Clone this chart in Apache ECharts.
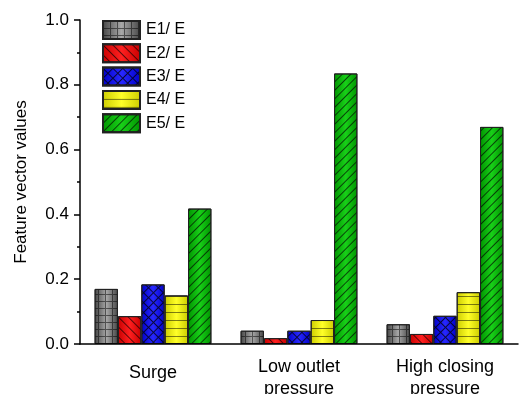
<!DOCTYPE html>
<html><head><meta charset="utf-8">
<script src="https://cdn.jsdelivr.net/npm/echarts@6/dist/echarts.min.js"></script>
<style>html,body{margin:0;padding:0;background:#fff}#c{width:520px;height:394px}</style>
</head><body><div id="c"></div>
<script>
var categories = ['Surge', 'Low outlet\npressure', 'High closing\npressure'];
var seriesNames = ['E1/ E', 'E2/ E', 'E3/ E', 'E4/ E', 'E5/ E'];
var E1 = [0.170, 0.041, 0.061];
var E2 = [0.086, 0.018, 0.031];
var E3 = [0.184, 0.041, 0.087];
var E4 = [0.150, 0.074, 0.160];
var E5 = [0.418, 0.835, 0.670];
var yTicks = [0, 0.2, 0.4, 0.6, 0.8, 1.0];

var values = [E1, E2, E3, E4, E5];
var grads = [['#444444', '#a8a8a8'], ['#c80000', '#ff2020'], ['#0000c8', '#2828ff'], ['#cccc00', '#ffff28'], ['#009400', '#18d018']];
function grad(c) {
  return new echarts.graphic.LinearGradient(0, 0, 1, 0, [
    {offset: 0, color: c[0]}, {offset: 0.5, color: c[1]}, {offset: 1, color: c[0]}]);
}
var Lshape = 'path://M0,0H7V1H1V7H0Z';
var decals = [
  {symbol: Lshape, color: 'rgba(0,0,0,0.5)', dashArrayX: [7, 0], dashArrayY: [7, 0], symbolSize: 1},
  {symbol: 'rect', color: 'rgba(0,0,0,0.65)', dashArrayX: [[1, 0]], dashArrayY: [1, 6], symbolSize: 1, rotation: Math.PI / 4},
  {symbol: Lshape, color: 'rgba(0,0,0,0.75)', dashArrayX: [7, 0], dashArrayY: [7, 0], symbolSize: 1, rotation: Math.PI / 4},
  {symbol: 'rect', color: 'rgba(0,0,0,0.5)', dashArrayX: [[1, 0]], dashArrayY: [1, 6.5], symbolSize: 1},
  {symbol: 'rect', color: 'rgba(0,0,0,0.65)', dashArrayX: [[1, 0]], dashArrayY: [1, 5], symbolSize: 1, rotation: -Math.PI / 4}
];
var series = seriesNames.map(function (n, i) {
  return {
    name: n, type: 'bar', data: values[i], xAxisIndex: 0,
    barGap: '0%', barCategoryGap: '20%',
    itemStyle: {color: grad(grads[i]), borderColor: '#222', borderWidth: 1, decal: decals[i]}
  };
});
var catData = categories.map(function (c, i) {
  return i === 0 ? {value: c, textStyle: {padding: [6, 0, 0, 0]}} : c;
});
var chart = echarts.init(document.getElementById('c'), null, {renderer: 'canvas'});
chart.setOption({
  animation: false,
  aria: {enabled: false, decal: {show: true}},
  textStyle: {fontFamily: 'Liberation Sans, Arial, sans-serif'},
  grid: {left: 80, right: 2, top: 20, bottom: 50, containLabel: false, outerBoundsMode: 'none'},
  legend: {
    orient: 'vertical', left: 102, top: 20, padding: 0, itemWidth: 37, itemHeight: 18, itemGap: 3.3,
    icon: 'rect',
    textStyle: {fontSize: 16, color: '#000', padding: [0, 0, 0, 1]},
    data: seriesNames
  },
  xAxis: [{
    type: 'category', data: catData,
    axisLine: {lineStyle: {color: '#000', width: 1.5}},
    axisTick: {alignWithLabel: true, length: 6, lineStyle: {color: '#000', width: 1.5}},
    axisLabel: {fontSize: 18, color: '#000', margin: 12, lineHeight: 22},
    z: 5
  }, {
    type: 'category', data: categories, position: 'bottom',
    axisLine: {show: false},
    axisTick: {length: 3, lineStyle: {color: '#000', width: 1.5}},
    axisLabel: {show: false}
  }],
  yAxis: {
    type: 'value', min: 0, max: 1, interval: 0.2,
    name: 'Feature vector values', nameLocation: 'middle', nameGap: 50,
    nameTextStyle: {fontSize: 17, color: '#000'},
    axisLine: {show: true, lineStyle: {color: '#000', width: 1.5}},
    axisTick: {show: true, length: 6, lineStyle: {color: '#000', width: 1.5}},
    minorTick: {show: true, splitNumber: 2, length: 3, lineStyle: {color: '#000', width: 1.5}},
    splitLine: {show: false},
    axisLabel: {fontSize: 17, color: '#000', margin: 11, formatter: function (v) {
      for (var k = 0; k < yTicks.length; k++) if (Math.abs(v - yTicks[k]) < 1e-9) return yTicks[k].toFixed(1);
      return '';
    }}
  },
  series: series
});
</script></body></html>
